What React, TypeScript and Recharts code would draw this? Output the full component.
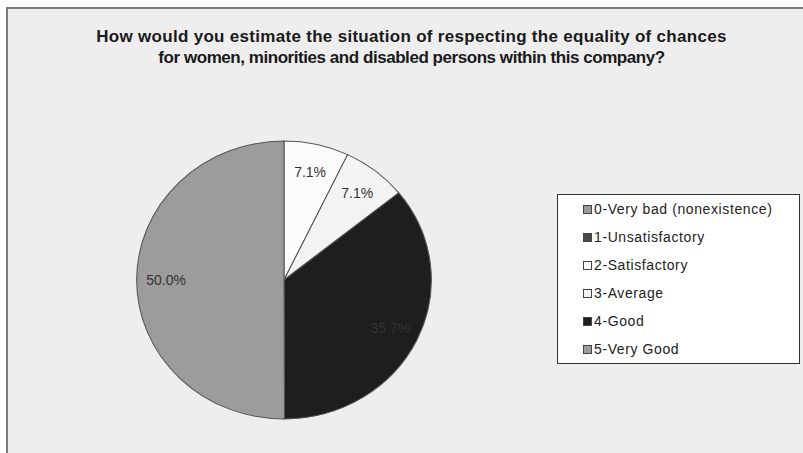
import React from 'react';
import { PieChart, Pie, Cell } from 'recharts';

const categories = [
  '0-Very bad (nonexistence)',
  '1-Unsatisfactory',
  '2-Satisfactory',
  '3-Average',
  '4-Good',
  '5-Very Good',
];
const percents = [0, 0, 7.1, 7.1, 35.7, 50.0];
const sliceColors = ['#9a9a9a', '#4a4a4a', '#fbfbfb', '#f3f3f3', '#1e1e1e', '#9c9c9c'];
const titleLines = [
  'How would you estimate the situation of respecting the equality of chances',
  'for women, minorities and disabled persons within this company?',
];
// the source font sets the second line tighter than the first
const titleSpacing = [0.3, -0.45];

const data = categories.map((name, i) => ({ name, value: percents[i] }));

// source chart draws the pie slightly wider than tall
const STRETCH = 1.06;
const MARGIN = 5; // PieChart default margin, cx/cy are measured inside it
const CX = 284;
const CY = 280;
const RADIUS = 139;
const RAD = Math.PI / 180;

const renderLabel = (props: any) => {
  const { cx, cy, midAngle, outerRadius, value, index } = props;
  if (!value) return null;
  const r = outerRadius * 0.8;
  const x = cx + r * Math.cos(-midAngle * RAD);
  const y = cy + r * Math.sin(-midAngle * RAD);
  return (
    <text
      key={`lbl-${index}`}
      x={x}
      y={y}
      textAnchor="middle"
      dominantBaseline="central"
      fill="#333"
      fontSize={14}
      fontFamily="'Liberation Sans', Arial, sans-serif"
      transform={`translate(${x} ${y}) scale(${1 / STRETCH} 1) translate(${-x} ${-y})`}
    >
      {value.toFixed(1)}%
    </text>
  );
};

export default function App() {
  return (
    <div style={{ position: 'absolute', left: 0, top: 0, width: 803, height: 453, background: '#fff', overflow: 'hidden' }}>
      <div
        style={{
          position: 'absolute',
          left: 6,
          top: 7,
          width: 797,
          height: 446,
          background: '#eeeeee',
          borderTop: '2px solid #7a7a7a',
          borderLeft: '2px solid #7a7a7a',
        }}
      />
      <div
        style={{
          position: 'absolute',
          left: 10,
          top: 26,
          width: 803,
          textAlign: 'center',
          fontFamily: "'Liberation Sans', Arial, sans-serif",
          fontWeight: 'bold',
          fontSize: 17,
          lineHeight: '21px',
          color: '#1a1a1a',
        }}
      >
        {titleLines.map((t, i) => (
          <div key={t} style={{ letterSpacing: titleSpacing[i] }}>{t}</div>
        ))}
      </div>

      <div style={{ position: 'absolute', left: 0, top: 0, transform: `scaleX(${STRETCH})`, transformOrigin: `${CX}px ${CY}px` }}>
        <PieChart width={600} height={453}>
          <Pie
            data={data}
            dataKey="value"
            nameKey="name"
            cx={CX - MARGIN}
            cy={CY - MARGIN}
            outerRadius={RADIUS}
            startAngle={90}
            endAngle={-270}
            stroke="#555"
            strokeWidth={1}
            label={renderLabel}
            labelLine={false}
            isAnimationActive={false}
          >
            {data.map((d, i) => (
              <Cell key={d.name} fill={sliceColors[i]} />
            ))}
          </Pie>
        </PieChart>
      </div>

      <div
        style={{
          position: 'absolute',
          left: 557,
          top: 194,
          width: 241,
          height: 168,
          background: '#fff',
          border: '1px solid #333',
          fontFamily: "'Liberation Sans', Arial, sans-serif",
          fontSize: 14,
          letterSpacing: 0.6,
          color: '#222',
        }}
      >
        {categories.map((c, i) => (
          <div key={c} style={{ position: 'absolute', left: 25, top: 5 + i * 28, height: 18, display: 'flex', alignItems: 'center' }}>
            <span
              style={{
                display: 'inline-block',
                width: 7,
                height: 7,
                background: sliceColors[i],
                border: '1px solid #444',
                marginRight: 2,
              }}
            />
            {c}
          </div>
        ))}
      </div>
    </div>
  );
}
